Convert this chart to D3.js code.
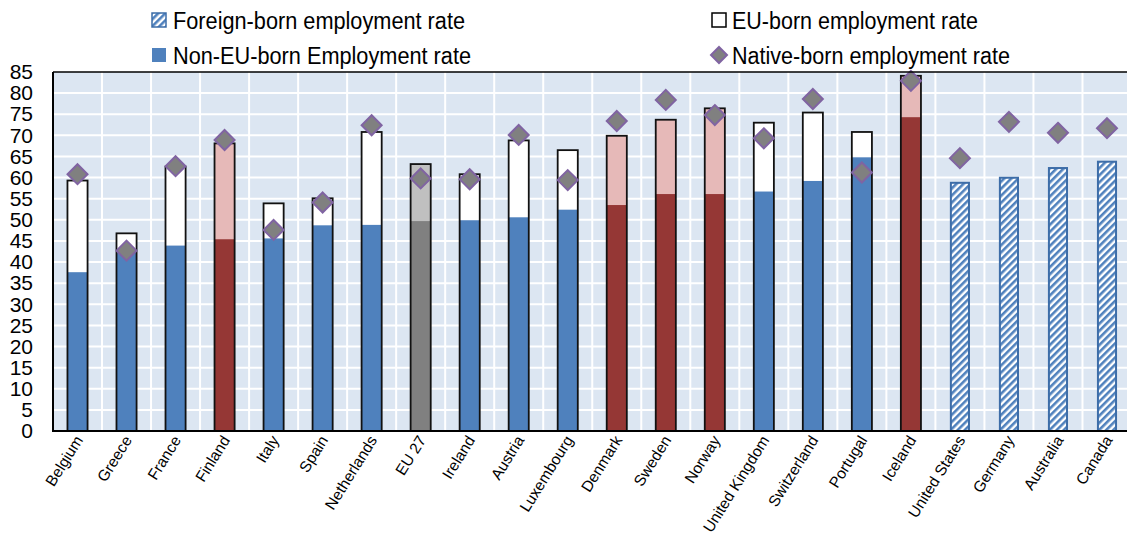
<!DOCTYPE html>
<html>
<head>
<meta charset="utf-8">
<script src="https://cdn.jsdelivr.net/npm/d3@7"></script>
<style>
  html, body { margin: 0; padding: 0; background: #ffffff; }
  svg { display: block; font-family: "Liberation Sans", Arial, sans-serif; }
</style>
</head>
<body>
<svg id="chart" width="1127" height="538"></svg>
<script>
// Employment rates (%) by place of birth
const countries = ["Belgium", "Greece", "France", "Finland", "Italy", "Spain", "Netherlands", "EU 27",
  "Ireland", "Austria", "Luxembourg", "Denmark", "Sweden", "Norway", "United Kingdom", "Switzerland",
  "Portugal", "Iceland", "United States", "Germany", "Australia", "Canada"];

// "eu" = European country, "nordic" = Nordic country, "avg" = EU 27 average, "other" = total foreign-born only
const countryGroup = ["eu", "eu", "eu", "nordic", "eu", "eu", "eu", "avg",
  "eu", "eu", "eu", "nordic", "nordic", "nordic", "eu", "eu",
  "eu", "nordic", "other", "other", "other", "other"];

const nonEuBornRate = [37.6, 43.0, 43.9, 45.4, 45.6, 48.7, 48.8, 49.7, 49.9, 50.6, 52.4,
  53.5, 56.1, 56.1, 56.7, 59.2, 64.8, 74.3, null, null, null, null];

const euBornRate = [59.3, 46.8, 62.6, 68.1, 53.9, 55.1, 70.8, 63.2, 60.8, 68.8, 66.5,
  69.9, 73.7, 76.4, 73.0, 75.4, 70.8, 84.1, null, null, null, null];

const foreignBornRate = [null, null, null, null, null, null, null, null, null, null, null,
  null, null, null, null, null, null, null, 59.0, 60.2, 62.5, 64.0];

const nativeBornRate = [60.8, 42.7, 62.7, 68.9, 47.6, 54.1, 72.4, 59.8, 59.6, 70.1, 59.4,
  73.4, 78.4, 74.8, 69.3, 78.6, 61.2, 82.9, 64.6, 73.2, 70.6, 71.7];

const yTicks = d3.range(0, 90, 5);

const legendLabels = ["Foreign-born employment rate", "Non-EU-born Employment rate",
  "EU-born employment rate", "Native-born employment rate"];

// ---- styling ----
const lowerFill = { eu: "#4F81BD", nordic: "#953735", avg: "#808080" };
const upperFill = { eu: "#FFFFFF", nordic: "#E6B9B8", avg: "#C0C0C0" };
const hatchBlue = "#4F81BD";
const hatchEdge = "#3D6DA8";

const svg = d3.select("#chart");
const W = 1127;
const plot = { left: 53, top: 72, bottom: 431, right: 1131.5 };

const x = d3.scaleBand().domain(countries)
  .range([plot.left, plot.right]).paddingInner(0.59).paddingOuter(0.295);
const y = d3.scaleLinear().domain([0, 85]).range([plot.bottom, plot.top]);

const rows = countries.map((c, i) => ({
  country: c, group: countryGroup[i], nonEu: nonEuBornRate[i], eu: euBornRate[i],
  foreign: foreignBornRate[i], native: nativeBornRate[i]
}));

// diagonal hatch pattern
const defs = svg.append("defs");
const pat = defs.append("pattern").attr("id", "hatch")
  .attr("patternUnits", "userSpaceOnUse").attr("width", 5).attr("height", 5)
  .attr("patternTransform", "rotate(45)");
pat.append("rect").attr("width", 5).attr("height", 5).attr("fill", "#FFFFFF");
pat.append("rect").attr("width", 2.6).attr("height", 5).attr("fill", hatchBlue);

// plot background
svg.append("rect").attr("x", plot.left).attr("y", plot.top)
  .attr("width", W - plot.left).attr("height", plot.bottom - plot.top)
  .attr("fill", "#DCE6F2");

// horizontal gridlines
svg.append("g").selectAll("line").data(yTicks.filter(t => t > 0 && t < 85)).join("line")
  .attr("x1", plot.left).attr("x2", W)
  .attr("y1", d => y(d)).attr("y2", d => y(d))
  .attr("stroke", "#FFFFFF").attr("stroke-width", 2);

// vertical gridlines at category boundaries
const step = x.step();
svg.append("g").selectAll("line").data(countries.slice(1)).join("line")
  .attr("x1", d => x(d) - step * x.paddingInner() / 2)
  .attr("x2", d => x(d) - step * x.paddingInner() / 2)
  .attr("y1", plot.top).attr("y2", plot.bottom)
  .attr("stroke", "#FFFFFF").attr("stroke-width", 2);

const bw = x.bandwidth();
const bars = svg.append("g");

// EU-born (upper) segment fill, from zero to EU-born rate
const stacked = rows.filter(d => d.eu != null);
bars.selectAll("rect.upper").data(stacked).join("rect").attr("class", "upper")
  .attr("x", d => x(d.country)).attr("width", bw)
  .attr("y", d => y(d.eu)).attr("height", d => y(0) - y(d.eu))
  .attr("fill", d => upperFill[d.group]);

// Non-EU-born segment
bars.selectAll("rect.lower").data(stacked).join("rect").attr("class", "lower")
  .attr("x", d => x(d.country)).attr("width", bw)
  .attr("y", d => y(d.nonEu)).attr("height", d => y(0) - y(d.nonEu))
  .attr("fill", d => lowerFill[d.group]);

// outline of the EU-born bar
bars.selectAll("rect.outline").data(stacked).join("rect").attr("class", "outline")
  .attr("x", d => x(d.country)).attr("width", bw)
  .attr("y", d => y(d.eu)).attr("height", d => y(0) - y(d.eu))
  .attr("fill", "none").attr("stroke", "#111111").attr("stroke-width", 1.8);

// foreign-born hatched bars
const foreignRows = rows.filter(d => d.foreign != null);
bars.selectAll("rect.foreign").data(foreignRows).join("rect").attr("class", "foreign")
  .attr("x", d => x(d.country) + 1).attr("width", bw - 2)
  .attr("y", d => y(d.foreign) + 1).attr("height", d => y(0) - y(d.foreign) - 1)
  .attr("fill", "url(#hatch)").attr("stroke", hatchEdge).attr("stroke-width", 2);

// native-born diamonds
const diamond = r => `M0,${-r}L${r},0L0,${r}L${-r},0Z`;
svg.append("g").selectAll("path").data(rows).join("path")
  .attr("d", diamond(10))
  .attr("transform", d => `translate(${x(d.country) + bw / 2},${y(d.native)})`)
  .attr("fill", "#808080").attr("stroke", "#8064A2").attr("stroke-width", 2);

// axis frame
svg.append("line").attr("x1", plot.left).attr("x2", W).attr("y1", plot.top).attr("y2", plot.top)
  .attr("stroke", "#000").attr("stroke-width", 1.5);
svg.append("line").attr("x1", plot.left).attr("x2", W).attr("y1", plot.bottom).attr("y2", plot.bottom)
  .attr("stroke", "#000").attr("stroke-width", 2);
svg.append("line").attr("x1", plot.left).attr("x2", plot.left).attr("y1", plot.top).attr("y2", plot.bottom + 1)
  .attr("stroke", "#000").attr("stroke-width", 2);

// y axis labels
const yAxis = svg.append("g").attr("transform", `translate(${plot.left},0)`)
  .call(d3.axisLeft(y).tickValues(yTicks).tickSize(0).tickPadding(20));
yAxis.select(".domain").remove();
yAxis.selectAll("text").attr("font-size", 21).attr("fill", "#000")
  .attr("font-family", "'Liberation Sans', Arial, sans-serif");

// x axis labels
const xAxis = svg.append("g").attr("transform", `translate(0,${plot.bottom})`)
  .call(d3.axisBottom(x).tickSize(0));
xAxis.select(".domain").remove();
xAxis.selectAll("text")
  .attr("font-size", 15.5).attr("fill", "#000")
  .attr("font-family", "'Liberation Sans', Arial, sans-serif")
  .attr("text-anchor", "end").attr("dy", null).attr("y", 0).attr("x", 0)
  .attr("transform", "translate(6,9) rotate(-58)");

// legend
const legend = svg.append("g").attr("font-size", 23.5).attr("fill", "#000");
const lx1 = 152, lx2 = 712, tx1 = 173, tx2 = 732;
const row1 = 20, row2 = 55;
legend.append("rect").attr("x", lx1).attr("y", row1 - 7).attr("width", 14).attr("height", 14)
  .attr("fill", "url(#hatch)").attr("stroke", hatchEdge).attr("stroke-width", 1.5);
legend.append("rect").attr("x", lx1).attr("y", row2 - 7).attr("width", 14).attr("height", 14)
  .attr("fill", lowerFill.eu);
legend.append("rect").attr("x", lx2).attr("y", row1 - 7).attr("width", 14).attr("height", 14)
  .attr("fill", "#FFFFFF").attr("stroke", "#000").attr("stroke-width", 1.5);
legend.append("path").attr("d", diamond(8)).attr("transform", `translate(${lx2 + 7},${row2})`)
  .attr("fill", "#808080").attr("stroke", "#8064A2").attr("stroke-width", 2);

const legendItems = [
  { text: legendLabels[0], x: tx1, y: row1, len: 292 },
  { text: legendLabels[1], x: tx1, y: row2, len: 298 },
  { text: legendLabels[2], x: tx2, y: row1, len: 246 },
  { text: legendLabels[3], x: tx2, y: row2, len: 278 }
];
legend.selectAll("text").data(legendItems).join("text")
  .attr("x", d => d.x).attr("y", d => d.y + 8.5)
  .attr("textLength", d => d.len).attr("lengthAdjust", "spacingAndGlyphs")
  .text(d => d.text);
</script>
</body>
</html>
